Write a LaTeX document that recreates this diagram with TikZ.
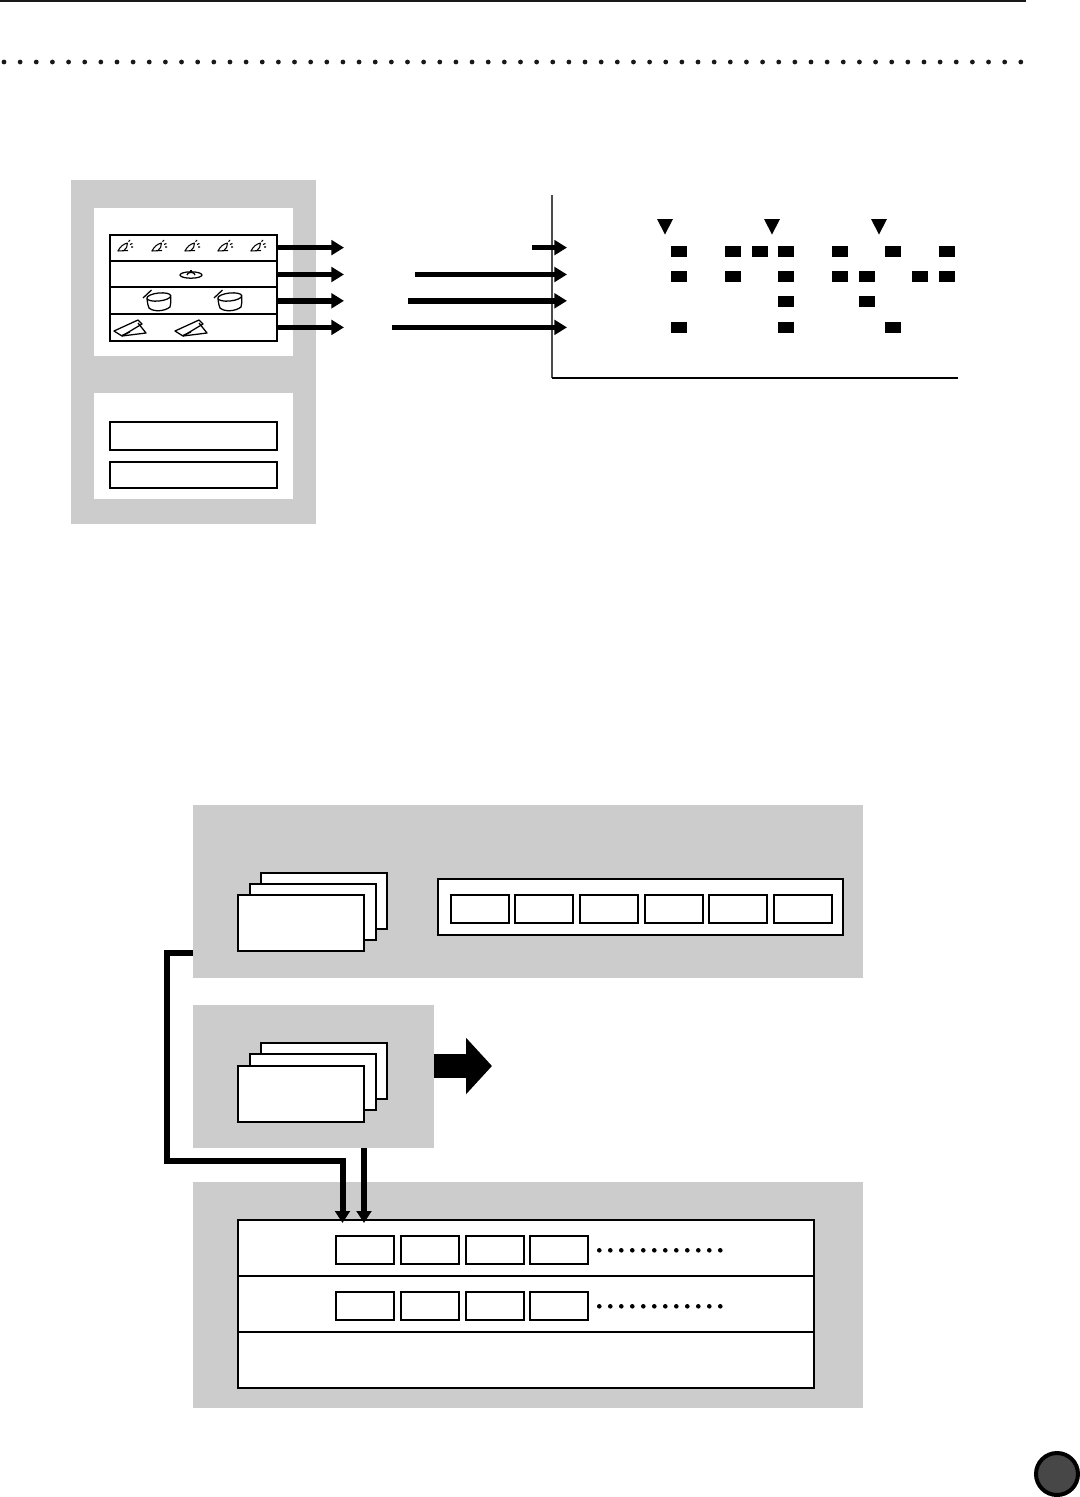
\documentclass[tikz,border=0pt]{standalone}
\usetikzlibrary{arrows.meta}
\definecolor{panelgray}{HTML}{CCCCCC}
\newcommand{\pxbox}[6]{\node[#2,minimum width={(#5-(#3))*0.75pt},minimum height={(#6-(#4))*0.75pt}] (#1) at ({(#3+#5)/2},{(#4+#6)/2}) {};}
\tikzset{
  x=0.75pt,y=-0.75pt,
  every node/.style={inner sep=0pt,outer sep=0pt},
  panel/.style={fill=panelgray},
  whitepanel/.style={fill=white},
  cell/.style={draw=black,fill=white,line width=1.5pt},
  beat/.style={fill=black},
  thinarrow/.style={line width=4.2pt,-{Triangle[length=9.5pt,width=11pt]}},
  thickarrow/.style={line width=4.5pt,-{Triangle[length=9pt,width=11pt]}},
  axisline/.style={line width=1.1pt},
  icon/.style={line width=0.95pt,line join=round},
  hihat/.pic={
    \draw[icon,line width=0.8pt] (-7.5,3) -- (3,2.5) (-7,3) .. controls (-5,-1) and (-2,-4) .. (2.5,-5) .. controls (3,-2) and (1,1) .. (-1.5,3);
    \draw[icon,line width=0.8pt] (3.5,-6.5) -- (5,-8) (5,-3.5) -- (7.5,-4.5) (6,-1) -- (8.2,-1);
  },
  cymbal/.pic={
    \draw[icon,fill=white] (0,0) ellipse [x radius=11,y radius=3.2];
    \draw[icon] (-4,0) .. controls (-4,-3.5) and (4,-3.5) .. (4,0);
    \draw[icon] (0,-2.5) -- (0,-5);
  },
  drum/.pic={
    \draw[icon] (-15.5,1) -- (-7,-7);
    \draw[icon,fill=white] (-11.5,1.5) .. controls (-11,6) and (-10.5,9) .. (-9.5,11) .. controls (-5,15) and (6,14.5) .. (11.5,10) .. controls (12.5,6) and (12.5,2) .. (12,-1.5);
    \draw[icon,fill=white] (0.3,0) ellipse [x radius=12,y radius=4,rotate=6];
  },
  kick/.pic={
    \draw[icon] (-1,-1) -- (23,-12) -- (27,-8) -- (7,4) -- cycle;
    \draw[icon] (7,4) -- (31,1) -- (23,-9) (7,3.5) -- (15,0);
  }
}
\begin{document}
\begin{tikzpicture}
\useasboundingbox (0,0) rectangle (1080,1497);
% page furniture
\coordinate (topL) at (0,0.7);
\coordinate (topR) at (1026,0.7);
\draw[line width=1.2pt,color=black!90] (topL) -- (topR);
\foreach \k in {0,...,63} \fill[black!90] ({4+16.14*\k},62) circle [radius=2.4];

% upper left unit
\pxbox{unitA}{panel}{71}{180}{316}{524}
\pxbox{whiteA}{whitepanel}{94}{208}{293}{356}
\pxbox{whiteB}{whitepanel}{94}{393}{293}{499}
\pxbox{rowA}{cell}{110}{235}{277}{261}
\pxbox{rowB}{cell}{110}{261}{277}{287}
\pxbox{rowC}{cell}{110}{287}{277}{314}
\pxbox{rowD}{cell}{110}{314}{277}{341}
\pxbox{slotA}{cell}{110}{422}{277}{450}
\pxbox{slotB}{cell}{110}{462}{277}{488}
\foreach \cx in {125,159,192,225,258} \pic at (\cx,248) {hihat};
\pic at (191,275) {cymbal};
\pic at (158.5,297) {drum};
\pic at (229.5,297) {drum};
\pic at (115,332) {kick};
\pic at (176,332) {kick};

% arrows out of the rows
\coordinate (outA) at (344,247.6);
\coordinate (outB) at (344,274.5);
\coordinate (outC) at (344,300.8);
\coordinate (outD) at (344,327.4);
\draw[thinarrow] (rowA.east |- outA) -- (outA);
\draw[thinarrow] (rowB.east |- outB) -- (outB);
\draw[thinarrow] (rowC.east |- outC) -- (outC);
\draw[thinarrow] (rowD.east |- outD) -- (outD);

% pattern grid
\coordinate (axTop) at (552,195);
\coordinate (axOrigin) at (552,378);
\coordinate (axEnd) at (958,378);
\draw[axisline,color=black!70] (axTop) -- (axOrigin);
\draw[axisline] (axOrigin) -- (axEnd);
\coordinate (inA) at (567,247.6);
\coordinate (inB) at (567,274.5);
\coordinate (inC) at (567,300.8);
\coordinate (inD) at (567,327.4);
\coordinate (tailA) at (532,247.6);
\coordinate (tailB) at (415,274.5);
\coordinate (tailC) at (408,300.8);
\coordinate (tailD) at (392,327.4);
\draw[thinarrow] (tailA) -- (inA);
\draw[thinarrow] (tailB) -- (inB);
\draw[thinarrow] (tailC) -- (inC);
\draw[thinarrow] (tailD) -- (inD);
\foreach \tx in {665,772,879} \fill[black] (\tx-8,219) -- (\tx+8,219) -- (\tx,234.5) -- cycle;
\foreach \bx/\by in {671/246,725/246,752/246,778/246,832/246,885/246,939/246,
                     671/271,725/271,778/271,832/271,859/271,912/271,939/271,
                     778/296,859/296,
                     671/322,778/322,885/322}
  {\pxbox{b\bx-\by}{beat}{\bx}{\by}{\bx+15.5}{\by+11}}

% lower unit: top panel
\pxbox{panelB}{panel}{193}{805}{863}{978}
\pxbox{stackBc}{cell}{261}{873}{387}{929}
\pxbox{stackBb}{cell}{250}{884}{376}{940}
\pxbox{stackBa}{cell}{238}{895}{364}{951}
\pxbox{outerB}{cell}{438}{879}{843}{935}
\foreach \bx [count=\n] in {451,515,580,645,709,774}
  {\pxbox{innerB\n}{cell}{\bx}{895}{\bx+58}{923}}

% lower unit: middle panel
\pxbox{panelC}{panel}{193}{1005}{434}{1148}
\pxbox{stackCc}{cell}{261}{1043}{387}{1099}
\pxbox{stackCb}{cell}{250}{1054}{376}{1110}
\pxbox{stackCa}{cell}{238}{1066}{364}{1122}
\coordinate (bigTip) at (492,1066);
\draw[line width=18pt,-{Triangle[length=19.5pt,width=41.25pt]}] (panelC.east |- bigTip) -- (bigTip);

% lower unit: bottom panel
\pxbox{panelD}{panel}{193}{1182}{863}{1408}
\pxbox{listA}{cell}{238}{1220}{814}{1276}
\pxbox{listB}{cell}{238}{1276}{814}{1332}
\pxbox{listC}{cell}{238}{1332}{814}{1388}
\foreach \bx [count=\n] in {336,401,466,530}
  {\pxbox{seqA\n}{cell}{\bx}{1236}{\bx+58}{1264}
   \pxbox{seqB\n}{cell}{\bx}{1292}{\bx+58}{1320}}
\foreach \k in {0,...,11} {
  \fill[black] ({599.3+11*\k},1250.3) circle [radius=2.3];
  \fill[black] ({599.3+11*\k},1306.3) circle [radius=2.3];
}

% connectors into the list
\coordinate (startB) at (193,953);
\coordinate (bendA) at (167,953);
\coordinate (bendB) at (167,1161);
\coordinate (bendC) at (342.5,1161);
\coordinate (tipA) at (342.5,1223);
\coordinate (tipB) at (364,1223);
\draw[thickarrow] (startB) -- (bendA) -- (bendB) -- (bendC) -- (tipA);
\draw[thickarrow] (panelC.south -| tipB) -- (tipB);

% page marker
\coordinate (marker) at (1057,1474);
\draw[line width=3pt,fill=black!72] (marker) circle [radius=21];
\end{tikzpicture}
\end{document}
